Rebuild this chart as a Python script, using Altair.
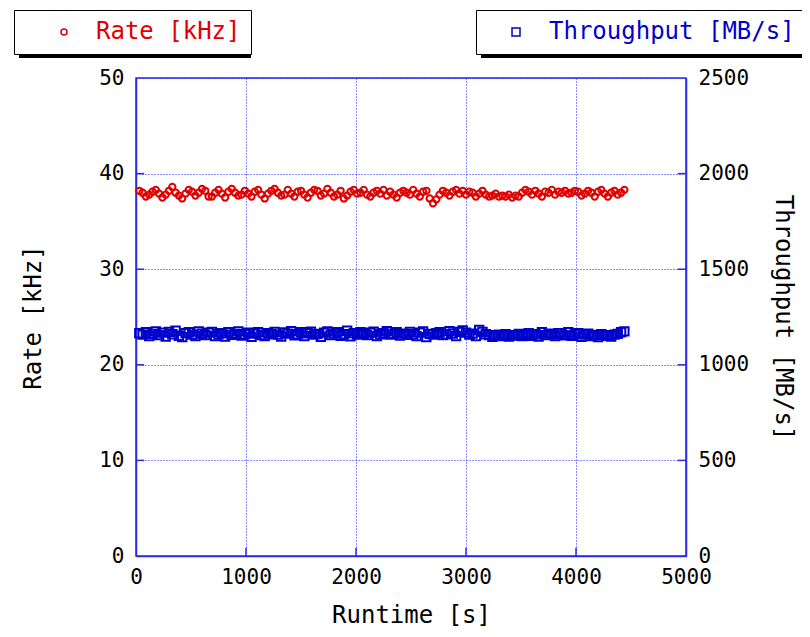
import altair as alt
import pandas as pd

times = [
    30, 60, 90, 120, 150, 180, 210, 240, 270, 300,
    330, 360, 390, 420, 450, 480, 510, 540, 570, 600,
    630, 660, 690, 720, 750, 780, 810, 840, 870, 900,
    930, 960, 990, 1020, 1050, 1080, 1110, 1140, 1170, 1200,
    1230, 1260, 1290, 1320, 1350, 1380, 1410, 1440, 1470, 1500,
    1530, 1560, 1590, 1620, 1650, 1680, 1710, 1740, 1770, 1800,
    1830, 1860, 1890, 1920, 1950, 1980, 2010, 2040, 2070, 2100,
    2130, 2160, 2190, 2220, 2250, 2280, 2310, 2340, 2370, 2400,
    2430, 2460, 2490, 2520, 2550, 2580, 2610, 2640, 2670, 2700,
    2730, 2760, 2790, 2820, 2850, 2880, 2910, 2940, 2970, 3000,
    3030, 3060, 3090, 3120, 3150, 3180, 3210, 3240, 3270, 3300,
    3330, 3360, 3390, 3420, 3450, 3480, 3510, 3540, 3570, 3600,
    3630, 3660, 3690, 3720, 3750, 3780, 3810, 3840, 3870, 3900,
    3930, 3960, 3990, 4020, 4050, 4080, 4110, 4140, 4170, 4200,
    4230, 4260, 4290, 4320, 4350, 4380, 4410, 4440,
]

rate_khz = [
    38.2, 38.0, 37.6, 37.8, 38.1, 38.3, 37.9, 37.5, 37.8, 38.2,
    38.6, 38.0, 37.7, 37.4, 37.9, 38.3, 38.1, 37.7, 38.0, 38.4,
    38.2, 37.6, 37.6, 38.0, 38.3, 37.9, 37.5, 38.1, 38.4, 38.0,
    37.7, 37.8, 38.2, 37.9, 37.6, 38.1, 38.3, 37.8, 37.4, 37.9,
    38.2, 38.4, 38.0, 37.7, 37.8, 38.3, 37.9, 37.6, 38.1, 38.2,
    37.8, 37.5, 38.0, 38.3, 38.2, 37.7, 37.9, 38.4, 38.0, 37.6,
    37.8, 38.2, 37.4, 37.7, 38.1, 38.3, 37.9, 38.0, 38.3, 37.8,
    37.6, 38.0, 38.2, 37.9, 38.3, 37.7, 38.1, 37.8, 37.5, 38.0,
    38.2, 38.0, 37.8, 38.3, 37.9, 37.6, 38.1, 38.2, 37.4, 36.9,
    37.3, 37.8, 38.2, 38.0, 37.7, 38.1, 38.3, 37.9, 38.2, 37.8,
    38.1, 38.0, 37.6, 37.9, 38.2, 37.8, 37.6, 37.7, 37.9, 37.6,
    37.7, 37.6, 37.8, 37.5, 37.7, 37.6, 38.0, 38.3, 38.1, 37.8,
    38.2, 37.9, 37.6, 38.1, 38.0, 38.3, 37.8, 38.1, 38.0, 38.2,
    37.9, 38.0, 38.2, 38.1, 37.7, 37.9, 38.2, 38.0, 37.6, 38.1,
    38.3, 37.9, 37.6, 38.0, 38.2, 37.8, 38.0, 38.3,
]

throughput_mbs = [
    1165, 1158, 1170, 1150, 1162, 1175, 1155, 1168, 1148, 1172,
    1160, 1178, 1152, 1145, 1166, 1170, 1158, 1150, 1174, 1163,
    1155, 1168, 1172, 1150, 1160, 1165, 1148, 1170, 1157, 1162,
    1175, 1153, 1160, 1168, 1146, 1163, 1171, 1156, 1150, 1166,
    1160, 1172, 1158, 1148, 1169, 1163, 1176, 1154, 1160, 1170,
    1150, 1165, 1173, 1158, 1162, 1147, 1168, 1175, 1156, 1163,
    1170, 1152, 1160, 1178, 1149, 1166, 1158, 1171, 1162, 1155,
    1168, 1173, 1150, 1160, 1165, 1176, 1158, 1162, 1170, 1153,
    1163, 1157, 1172, 1160, 1150, 1168, 1174, 1145, 1162, 1158,
    1166, 1170, 1155, 1160, 1176, 1164, 1150, 1172, 1180, 1168,
    1158, 1163, 1150, 1182, 1172, 1160, 1155, 1147, 1152, 1158,
    1150, 1160, 1148, 1155, 1153, 1162, 1150, 1157, 1165, 1152,
    1160, 1148, 1170, 1155, 1163, 1158, 1150, 1166, 1161, 1154,
    1170, 1152, 1160, 1165, 1147, 1158, 1163, 1150, 1156, 1145,
    1160, 1155, 1152, 1148, 1158, 1162, 1170, 1175,
]

x_ticks = [0, 1000, 2000, 3000, 4000, 5000]
rate_ticks = [0, 10, 20, 30, 40, 50]
thr_ticks = [0, 500, 1000, 1500, 2000, 2500]
x_inner = [1000, 2000, 3000, 4000]
y_inner = [10, 20, 30, 40]

RATE_NAME = "Rate [kHz]"
THR_NAME = "Throughput [MB/s]"

FONT = "DejaVu Sans Mono"
RED = "#e00000"
BLUE = "#0000cc"
AXBLUE = "#2a2ae8"
GRIDBLUE = "#1a1aff"

df_rate = pd.DataFrame({"t": times, "v": rate_khz, "s": RATE_NAME})
df_thr = pd.DataFrame({"t": times, "v": throughput_mbs, "s": THR_NAME})

xscale = alt.Scale(domain=[0, 5000], nice=False)
x_enc = alt.X("t:Q", scale=xscale,
              axis=alt.Axis(values=x_ticks, title="Runtime [s]", grid=True, ticks=False,
                            format="d", labelFlush=False, labelPadding=10, titlePadding=16))
rate_scale = alt.Scale(domain=[0, 50], nice=False)

rate_layer = alt.Chart(df_rate).mark_point(
    shape="circle", filled=False, size=40, strokeWidth=2, opacity=1
).encode(
    x=x_enc,
    y=alt.Y("v:Q", scale=rate_scale,
            axis=alt.Axis(values=rate_ticks, title=RATE_NAME, orient="left", grid=True,
                          ticks=False, labelPadding=12, titlePadding=53)),
    color=alt.Color("s:N", scale=alt.Scale(domain=[RATE_NAME], range=[RED]),
                    legend=alt.Legend(orient="none", legendX=-122, legendY=-68, title=None,
                                      padding=10, strokeColor="black", fillColor="white",
                                      labelFont=FONT, labelFontSize=24, labelColor=RED,
                                      labelLimit=0,
                                      symbolType="circle", symbolSize=36, symbolStrokeWidth=1.5,
                                      symbolOffset=28, labelOffset=20, cornerRadius=0)),
)

thr_layer = alt.Chart(df_thr).mark_point(
    shape="square", filled=False, size=70, strokeWidth=2, opacity=1
).encode(
    x=x_enc,
    y=alt.Y("v:Q", scale=alt.Scale(domain=[0, 2500], nice=False),
            axis=alt.Axis(values=thr_ticks, title=THR_NAME, orient="right", grid=False,
                          format="d", ticks=False, labelPadding=12, titlePadding=22)),
    color=alt.Color("s:N", scale=alt.Scale(domain=[THR_NAME], range=[BLUE]),
                    legend=alt.Legend(orient="none", legendX=340, legendY=-68, title=None,
                                      padding=10, strokeColor="black", fillColor="white",
                                      labelFont=FONT, labelFontSize=24, labelColor=BLUE,
                                      labelLimit=0,
                                      symbolType="square", symbolSize=64, symbolStrokeWidth=1.5,
                                      symbolOffset=18, labelOffset=21, cornerRadius=0)),
)

# inward tick marks
bot_ticks = alt.Chart(pd.DataFrame({"t": x_inner, "y0": [0] * 4, "y1": [0.85] * 4})).mark_rule(
    color=AXBLUE, strokeWidth=1.5
).encode(x=x_enc, y=alt.Y("y0:Q", scale=rate_scale, axis=None), y2="y1:Q")

left_ticks = alt.Chart(pd.DataFrame({"t": [0] * 4, "t2": [75] * 4, "y": y_inner})).mark_rule(
    color=AXBLUE, strokeWidth=1.5
).encode(x=x_enc, x2="t2:Q", y=alt.Y("y:Q", scale=rate_scale, axis=None))

right_ticks = alt.Chart(pd.DataFrame({"t": [4925] * 4, "t2": [5000] * 4, "y": y_inner})).mark_rule(
    color=AXBLUE, strokeWidth=1.5
).encode(x=x_enc, x2="t2:Q", y=alt.Y("y:Q", scale=rate_scale, axis=None))

# legend drop shadows (decoration)
shadow_df = pd.DataFrame({"a": [0]})
shadow1 = alt.Chart(shadow_df).mark_rect(color="black").encode(
    x=alt.value(-117), x2=alt.value(115), y=alt.value(-63), y2=alt.value(-20))
shadow2 = alt.Chart(shadow_df).mark_rect(color="black").encode(
    x=alt.value(345), x2=alt.value(668), y=alt.value(-63), y2=alt.value(-20))

chart = alt.layer(
    shadow1, shadow2, bot_ticks, left_ticks, right_ticks, rate_layer, thr_layer
).resolve_scale(
    y="independent", color="independent"
).properties(
    width=550, height=478,
    autosize=alt.AutoSizeParams(type="none"),
    padding={"left": 128, "top": 70, "right": 116, "bottom": 73},
).configure_axis(
    labelFont=FONT, titleFont=FONT, labelFontSize=21, titleFontSize=24,
    titleFontWeight="normal", labelColor="black", titleColor="black",
    domainColor=AXBLUE, domainWidth=1.5,
    gridColor=GRIDBLUE, gridDash=[1, 2], gridOpacity=1, gridWidth=1,
).configure_view(
    stroke=AXBLUE, strokeWidth=1.5
)

chart.save("out.html", embed_options={"renderer": "svg", "actions": False})
